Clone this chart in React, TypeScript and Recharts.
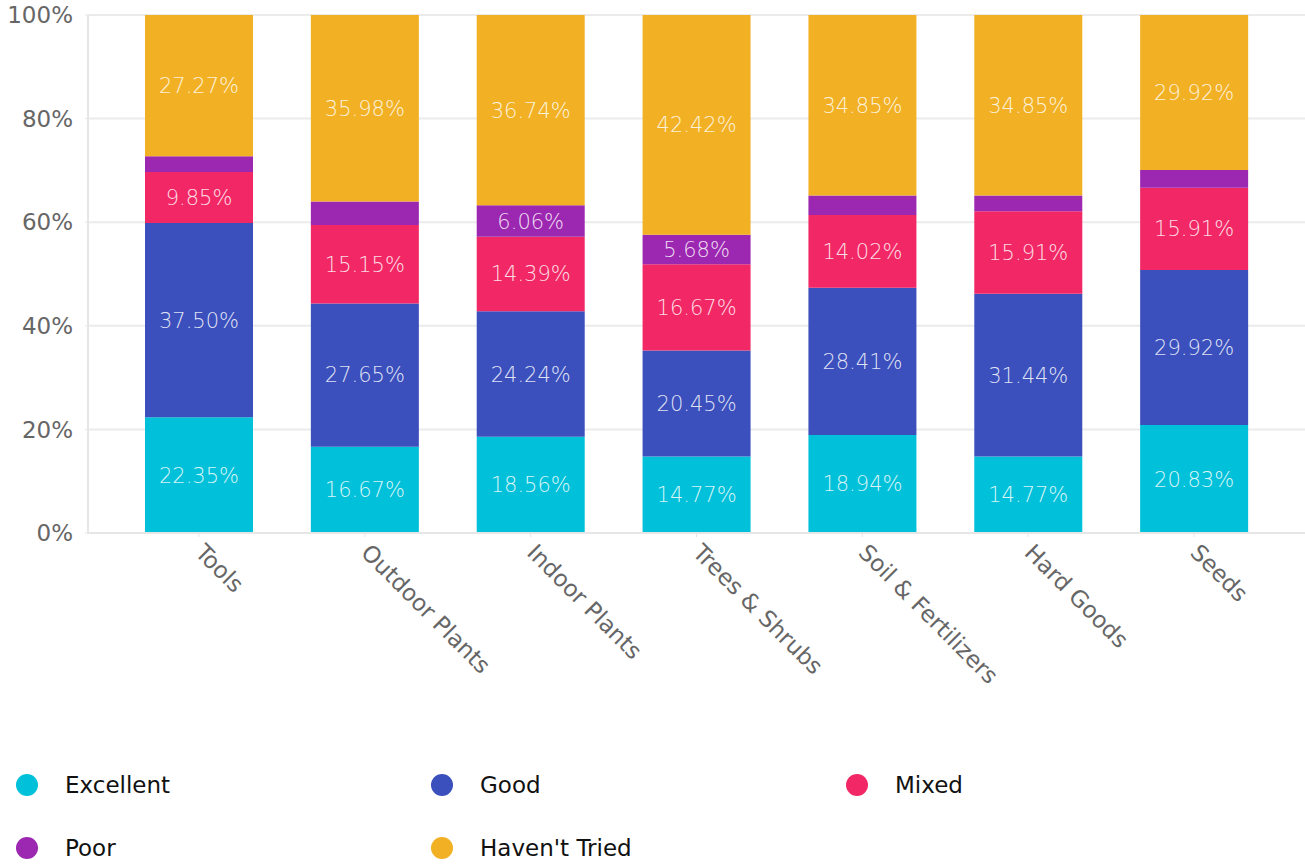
import { BarChart, Bar, XAxis, YAxis, CartesianGrid, LabelList } from "recharts";

const categories = ["Tools", "Outdoor Plants", "Indoor Plants", "Trees & Shrubs", "Soil & Fertilizers", "Hard Goods", "Seeds"];
const excellent = [22.35, 16.67, 18.56, 14.77, 18.94, 14.77, 20.83];
const good = [37.5, 27.65, 24.24, 20.45, 28.41, 31.44, 29.92];
const mixed = [9.85, 15.15, 14.39, 16.67, 14.02, 15.91, 15.91];
const poor = [3.03, 4.55, 6.06, 5.68, 3.78, 3.03, 3.42];
const haventTried = [27.27, 35.98, 36.74, 42.42, 34.85, 34.85, 29.92];
const yTicks = [0, 20, 40, 60, 80, 100];

const SERIES = [
    { key: "excellent", name: "Excellent", color: "#00c1d9" },
    { key: "good", name: "Good", color: "#3b50bd" },
    { key: "mixed", name: "Mixed", color: "#f22866" },
    { key: "poor", name: "Poor", color: "#9c27b1" },
    { key: "haventTried", name: "Haven't Tried", color: "#f2b124" },
];

const data = categories.map((c, i) => ({
    category: c,
    excellent: excellent[i],
    good: good[i],
    mixed: mixed[i],
    poor: poor[i],
    haventTried: haventTried[i],
}));

const FONT = "'DejaVu Sans', sans-serif";

const CategoryTick = ({ x, y, payload }: any) => (
    <g transform={`translate(${x - 5},${y + 15})`}>
        <text x={0} y={0} transform="rotate(45)" textAnchor="start" fill="#666" fontSize={23} fontFamily={FONT}>
            {payload.value}
        </text>
    </g>
);

// hide labels on thin segments
const fmt = (v: any) => (Number(v) >= 5 ? `${Number(v).toFixed(2)}%` : "");

export default function App() {
    return (
        <div style={{ position: "absolute", left: 0, top: 0, width: 1305, height: 864, background: "#fff", fontFamily: FONT }}>
            <BarChart
                width={1305}
                height={751}
                data={data}
                margin={{ top: 15, right: 0, bottom: 0, left: 0 }}
                style={{ overflow: "visible" }}
            >
                <CartesianGrid vertical={false} stroke="#ebebeb" strokeWidth={2} />
                <XAxis
                    dataKey="category"
                    interval={0}
                    height={218}
                    padding={{ left: 28, right: 28 }}
                    tick={<CategoryTick />}
                    tickLine={{ stroke: "#e6e6e6" }}
                    tickSize={4}
                    axisLine={{ stroke: "#e6e6e6", strokeWidth: 2 }}
                />
                <YAxis
                    width={88}
                    domain={[0, 100]}
                    ticks={yTicks}
                    tickFormatter={(v: number) => `${v}%`}
                    tick={{ fontSize: 23, fill: "#666", fontFamily: FONT }}
                    tickSize={3}
                    tickMargin={12}
                    tickLine={{ stroke: "#e6e6e6" }}
                    axisLine={{ stroke: "#e6e6e6", strokeWidth: 2 }}
                />
                {SERIES.map((s) => (
                    <Bar key={s.key} dataKey={s.key} name={s.name} stackId="a" fill={s.color} barSize={108} isAnimationActive={false}>
                        <LabelList
                            dataKey={s.key}
                            position="center"
                            formatter={fmt}
                            fill="rgba(255,255,255,0.85)"
                            fontSize={21}
                            fontFamily={FONT}
                            fontWeight={300}
                        />
                    </Bar>
                ))}
            </BarChart>
            <div
                style={{
                    position: "absolute",
                    left: 0,
                    top: 753,
                    display: "grid",
                    gridTemplateColumns: "415px 415px 415px",
                    gridAutoRows: "63px",
                }}
            >
                {SERIES.map((s) => (
                    <div key={s.key} style={{ display: "flex", alignItems: "center" }}>
                        <span
                            style={{
                                display: "inline-block",
                                width: 22,
                                height: 22,
                                borderRadius: "50%",
                                background: s.color,
                                marginLeft: 16,
                                marginRight: 27,
                            }}
                        />
                        <span style={{ fontSize: 23, color: "#111" }}>{s.name}</span>
                    </div>
                ))}
            </div>
        </div>
    );
}
